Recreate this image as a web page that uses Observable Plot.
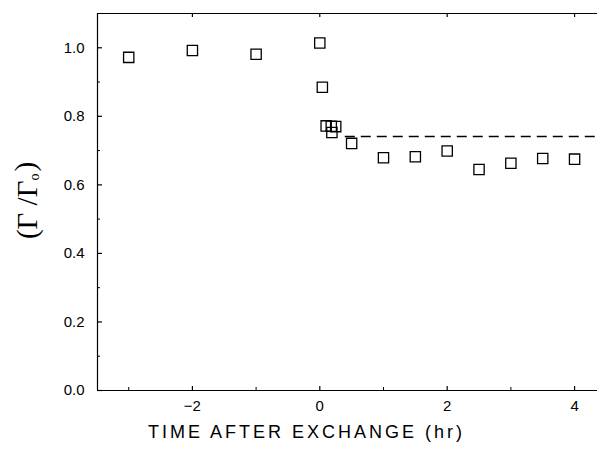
<!DOCTYPE html>
<html>
<head>
<meta charset="utf-8">
<script src="https://cdn.jsdelivr.net/npm/d3@7"></script>
<script src="https://cdn.jsdelivr.net/npm/@observablehq/plot@0.6"></script>
<style>
  html, body { margin: 0; padding: 0; background: #fff; }
</style>
</head>
<body>
<div id="chart"></div>
<script>
// Data
const timeHr = [-3, -2, -1, 0, 0.04, 0.1, 0.18, 0.25, 0.19, 0.5, 1, 1.5, 2, 2.5, 3, 3.5, 4];
const ratio  = [0.972, 0.992, 0.981, 1.014, 0.885, 0.772, 0.771, 0.770, 0.753, 0.721, 0.679, 0.682, 0.699, 0.645, 0.663, 0.677, 0.675];

// Dashed plateau line
const plateauLevel = 0.741;
const plateauStart = 0.4;

// Axis ticks
const xMajorTicks = [-2, 0, 2, 4];
const xMinorTicks = [-3, -1, 1, 3];
const yMajorTicks = [0, 0.2, 0.4, 0.6, 0.8, 1.0];
const yMinorTicks = [0.1, 0.3, 0.5, 0.7, 0.9];

const xTitle = "TIME AFTER EXCHANGE (hr)";
const yTitleMain = "(Γ /Γ";
const yTitleSub = "o";
const yTitleEnd = ")";

const xDomain = [-3.49, 4.36];
const yDomain = [0, 1.1];

const W = 597, H = 456;
const mL = 97, mR = 0, mT = 13, mB = 66;
const pxPerX = (W - mL - mR) / (xDomain[1] - xDomain[0]);
const pxPerY = (H - mT - mB) / (yDomain[1] - yDomain[0]);
const tx = (px) => px / pxPerX;
const ty = (px) => px / pxPerY;

const points = timeHr.map((t, i) => ({t, r: ratio[i]}));

const chart = Plot.plot({
  width: W,
  height: H,
  marginLeft: mL,
  marginRight: mR,
  marginTop: mT,
  marginBottom: mB,
  style: {fontFamily: "'Liberation Sans', Arial, sans-serif", background: "#fff", color: "#000"},
  x: {domain: xDomain},
  y: {domain: yDomain},
  marks: [
    // frame lines (left, bottom, top)
    Plot.ruleX([xDomain[0]], {y1: yDomain[0], y2: yDomain[1], stroke: "#000", strokeWidth: 1.2}),
    Plot.ruleY([yDomain[0], yDomain[1]], {x1: xDomain[0], x2: xDomain[1], stroke: "#000", strokeWidth: 1.2}),
    // inward ticks on left
    Plot.ruleY(yMajorTicks, {x1: xDomain[0], x2: xDomain[0] + tx(5), stroke: "#000", strokeWidth: 1.2}),
    Plot.ruleY(yMinorTicks, {x1: xDomain[0], x2: xDomain[0] + tx(3), stroke: "#000", strokeWidth: 1}),
    // inward ticks on bottom
    Plot.ruleX(xMajorTicks, {y1: yDomain[0], y2: yDomain[0] + ty(4), stroke: "#000", strokeWidth: 1.2}),
    Plot.ruleX(xMinorTicks, {y1: yDomain[0], y2: yDomain[0] + ty(3), stroke: "#000", strokeWidth: 1}),
    // inward ticks on top
    Plot.ruleX(xMajorTicks, {y1: yDomain[1], y2: yDomain[1] - ty(4), stroke: "#000", strokeWidth: 1.2}),
    // axis labels
    Plot.axisY(yMajorTicks, {tickSize: 0, tickPadding: 13, tickFormat: d3.format(".1f"), fontSize: 15, label: null}),
    Plot.axisX(xMajorTicks, {tickSize: 0, tickPadding: 10, tickFormat: d3.format("d"), fontSize: 15, label: null}),
    // dashed plateau
    Plot.ruleY([plateauLevel], {x1: plateauStart, x2: xDomain[1], stroke: "#000", strokeWidth: 1.4, strokeDasharray: "10,6"}),
    // data squares
    Plot.dot(points, {x: "t", y: "r", symbol: "square", r: 5.8, stroke: "#000", strokeWidth: 1.3, fill: "none"}),
    // axis titles
    Plot.text([xTitle], {frameAnchor: "bottom", dx: -41, dy: 47, text: d => d, fontSize: 18, fill: "#000", fontFamily: "'Liberation Sans', Arial, sans-serif", className: "xtitle"}),
    Plot.text([yTitleMain], {frameAnchor: "left", textAnchor: "middle", dx: -70, dy: -1.5, rotate: -90, text: d => d, fontSize: 29, fill: "#000", fontFamily: "'Liberation Serif', 'DejaVu Serif', serif", className: "ytitle"})
  ]
});

// letter spacing for x title
d3.select(chart).selectAll(".xtitle text").style("letter-spacing", "3px");
// subscript and closing paren for y title
d3.select(chart).selectAll(".ytitle text").each(function() {
  const t = d3.select(this);
  t.append("tspan").attr("font-size", 14).attr("dy", "0.15em").text(yTitleSub);
  t.append("tspan").attr("dy", "-0.15em").attr("dx", "2").text(yTitleEnd);
});

document.getElementById("chart").appendChild(chart);
</script>
</body>
</html>
